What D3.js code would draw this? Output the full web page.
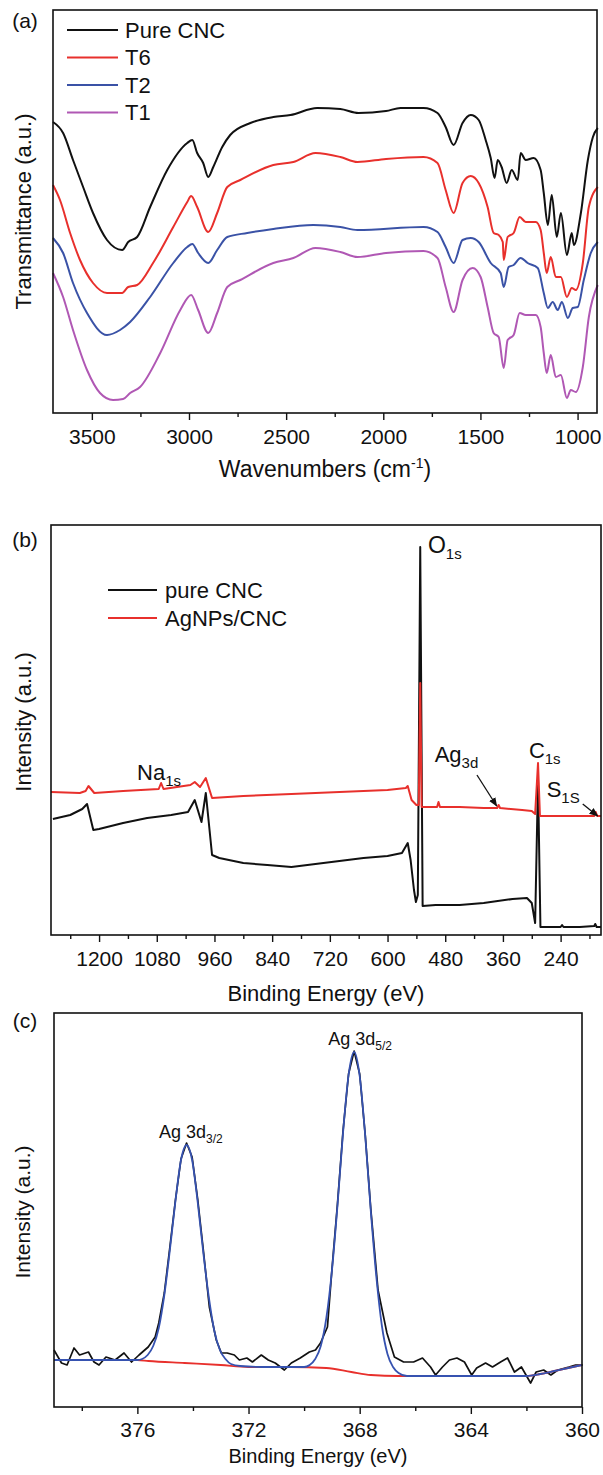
<!DOCTYPE html>
<html>
<head>
<meta charset="utf-8">
<script src="https://cdn.jsdelivr.net/npm/d3@7/dist/d3.min.js"></script>
<style>
body { margin: 0; background: #fff; }
text { font-family: "Liberation Sans", Arial, sans-serif; fill: #111; }
</style>
</head>
<body>
<div id="chart"></div>
<script>
// ---- (a) FTIR spectra: [wavenumber, transmittance a.u.]
const ftirNames = ['Pure CNC', 'T6', 'T2', 'T1'];
const ftirColors = ['#111111', '#e8302c', '#3a52a6', '#b058b4'];
const ftirTicks = [3500, 3000, 2500, 2000, 1500, 1000];
const ftirMinor = [3250, 2750, 2250, 1750, 1250];

const ftirPureCnc = [[3700,285],[3648,274],[3597,247],[3545,220],[3494,194],[3422,167],[3344,157],[3313,165],[3267,170],[3200,200],[3112,237],[3009,264],[2983,267],[2958,254],[2927,244],[2901,230],[2875,240],[2829,260],[2788,272],[2684,284],[2566,290],[2478,292],[2340,299],[2221,298],[2128,294],[1986,296],[1911,299],[1793,299],[1721,294],[1679,280],[1638,262],[1592,284],[1550,292],[1509,287],[1473,267],[1447,249],[1427,229],[1411,247],[1391,240],[1365,224],[1339,237],[1308,227],[1293,254],[1267,247],[1226,249],[1190,237],[1174,214],[1153,182],[1133,212],[1107,170],[1086,194],[1055,152],[1030,174],[1019,162],[983,194],[947,247],[921,270],[896,279]];
const ftirT6 = [[3700,222],[3664,207],[3612,174],[3561,147],[3494,124],[3422,114],[3344,114],[3313,120],[3267,122],[3185,144],[3081,180],[3009,205],[2989,211],[2958,200],[2901,175],[2855,194],[2803,220],[2736,227],[2566,242],[2463,245],[2349,254],[2221,250],[2133,245],[1986,248],[1793,250],[1721,244],[1679,217],[1638,194],[1592,224],[1550,231],[1509,224],[1463,200],[1432,174],[1406,172],[1385,165],[1380,147],[1360,170],[1329,174],[1298,190],[1267,185],[1215,185],[1190,177],[1174,154],[1159,134],[1138,150],[1112,130],[1086,130],[1055,110],[1030,119],[1009,117],[973,144],[942,200],[896,220]];
const ftirT2 = [[3700,169],[3648,154],[3597,124],[3525,94],[3422,72],[3355,77],[3303,85],[3200,110],[3081,144],[3009,160],[2983,163],[2953,154],[2901,144],[2855,157],[2803,170],[2700,174],[2566,178],[2360,182],[2221,180],[2133,177],[1793,180],[1721,175],[1679,160],[1638,144],[1592,167],[1550,169],[1509,165],[1447,144],[1396,134],[1380,120],[1355,140],[1329,142],[1293,149],[1257,144],[1205,139],[1174,114],[1153,99],[1128,105],[1102,97],[1081,105],[1050,89],[1025,99],[999,100],[968,127],[932,154],[896,165]];
const ftirT1 = [[3700,134],[3648,110],[3597,77],[3525,37],[3458,14],[3391,7],[3339,8],[3303,14],[3252,20],[3148,54],[3045,97],[2989,112],[2953,97],[2901,74],[2855,94],[2803,120],[2736,127],[2566,144],[2463,149],[2349,159],[2221,155],[2133,150],[1986,154],[1793,156],[1721,149],[1679,120],[1638,95],[1592,127],[1540,139],[1499,130],[1463,100],[1432,74],[1406,70],[1380,39],[1360,67],[1329,72],[1298,94],[1267,92],[1215,92],[1190,80],[1174,54],[1159,34],[1138,52],[1112,30],[1086,32],[1055,9],[1035,17],[1009,15],[973,40],[942,90],[896,122]];

// ---- (b) XPS survey: [binding energy eV, intensity a.u.]
const surveyNames = ['pure CNC', 'AgNPs/CNC'];
const surveyTicks = [1200, 1080, 960, 840, 720, 600, 480, 360, 240];
const surveyMinor = [1260, 1140, 1020, 900, 780, 660, 540, 420, 300, 180];
const surveyPure = [[1296,116],[1260,120],[1235,126],[1225,131],[1212,105],[1200,106],[1150,112],[1100,117],[1050,120],[1015,123],[1001,135],[987,113],[978,142],[965,80],[950,77],[900,72],[850,70],[800,68],[750,71],[700,74],[650,77],[600,79],[570,82],[558,92],[552,75],[545,45],[541,33],[537,40],[532,388],[527,29],[500,30],[450,30],[400,32],[340,36],[310,37],[300,32],[293,12],[287,155],[282,8],[240,8],[237,10],[234,8],[200,8],[170,9],[168,11],[165,8],[156,8]];
const surveyAg = [[1300,143],[1240,142],[1228,144],[1222,149],[1210,142],[1150,144],[1076,146],[1071,152],[1066,146],[1010,150],[1001,153],[990,148],[978,157],[965,137],[900,139],[800,141],[700,143],[600,145],[562,147],[558,149],[550,135],[540,130],[535,130],[532,252],[529,128],[520,128],[497,128],[494,133],[491,128],[450,128],[400,127],[372,127],[369,130],[366,127],[320,125],[300,124],[293,121],[287,172],[283,119],[240,119],[200,119],[170,119],[167,123],[164,119],[156,119]];

// ---- (c) Ag 3d high resolution
const agTicks = [376, 372, 368, 364, 360];
const agMinor = [378, 374, 370, 366, 362];
const agRaw = [[379.0,57],[378.73,44],[378.53,42],[378.28,59],[378.08,52],[377.76,55],[377.56,45],[377.38,42],[377.13,50],[376.80,47],[376.48,54],[376.21,45],[375.94,52],[375.61,60],[375.36,70],[375.23,84],[375.03,114],[374.83,160],[374.63,207],[374.43,248],[374.23,264],[374.03,250],[373.83,208],[373.63,158],[373.41,100],[373.16,67],[372.98,54],[372.77,54],[372.51,52],[372.33,47],[372.06,49],[371.86,45],[371.54,52],[371.29,47],[371.04,44],[370.71,37],[370.46,44],[370.14,49],[369.81,55],[369.59,57],[369.41,64],[369.16,80],[369.0,137],[368.8,203],[368.6,276],[368.4,333],[368.2,356],[368.0,333],[367.8,272],[367.6,198],[367.34,117],[367.02,74],[366.75,50],[366.42,45],[366.06,45],[365.74,49],[365.45,40],[365.27,32],[365.02,40],[364.77,47],[364.50,49],[364.23,45],[363.97,32],[363.79,39],[363.47,44],[363.22,40],[362.93,45],[362.68,49],[362.43,35],[362.18,40],[361.85,24],[361.65,35],[361.38,37],[361.12,32],[360.87,37],[360.47,40],[360.23,42],[359.97,42]];
const agBackground = [[379,47],[376,47],[375.6,46],[374.3,44],[373.0,42],[372.0,40],[370.5,40],[369.2,39],[368.3,35],[367.6,32],[366.6,31],[366.0,31],[362.0,31],[361.5,33],[361.0,36],[360.5,39],[360.0,42]];
const agFit = [[379,47],[376.5,47],[376.0,47],[375.83,48],[375.63,52],[375.43,61],[375.23,79],[375.03,112],[374.83,157],[374.63,206],[374.43,247],[374.23,262],[374.03,247],[373.83,205],[373.63,155],[373.43,110],[373.23,76],[373.03,57],[372.83,48],[372.63,43],[372.3,41],[371.5,40],[370.5,40],[370.0,40],[369.8,42],[369.6,48],[369.4,61],[369.2,89],[369.0,136],[368.8,201],[368.6,274],[368.4,332],[368.2,355],[368.0,331],[367.8,271],[367.6,196],[367.4,130],[367.2,81],[367.0,53],[366.8,40],[366.6,34],[366.3,31],[366.0,31],[362.0,31],[361.5,33],[361.0,36],[360.5,39],[360.0,42]];

const W = 603, H = 1475;
const svg = d3.select('#chart').append('svg')
    .attr('width', W).attr('height', H);

svg.append('defs').append('marker')
    .attr('id', 'arrow')
    .attr('viewBox', '0 0 10 10')
    .attr('refX', 9).attr('refY', 5)
    .attr('markerWidth', 7).attr('markerHeight', 7)
    .attr('orient', 'auto')
    .append('path')
    .attr('d', 'M0,1 L10,5 L0,9 z')
    .attr('fill', '#111');

// draws bottom axis with major/minor ticks, returns scales
function makePanel(box, xDomain, yDomain, major, minor, tickFont, pad) {
    const g = svg.append('g').attr('transform', `translate(${box.left},${box.top})`);
    const x = d3.scaleLinear().domain(xDomain).range([0, box.w]);
    const y = d3.scaleLinear().domain(yDomain).range([box.h, 0]);

    const ax = g.append('g')
        .attr('transform', `translate(0,${box.h})`)
        .call(d3.axisBottom(x).tickValues(major).tickFormat(d3.format('d'))
            .tickSize(7).tickSizeOuter(0).tickPadding(pad));
    ax.select('.domain').remove();
    ax.selectAll('line').attr('stroke', '#111').attr('stroke-width', 1.4);
    ax.selectAll('text').attr('font-size', tickFont).attr('font-family', '"Liberation Sans", Arial, sans-serif');

    const mx = g.append('g')
        .attr('transform', `translate(0,${box.h})`)
        .call(d3.axisBottom(x).tickValues(minor).tickSize(4).tickSizeOuter(0).tickFormat(''));
    mx.select('.domain').remove();
    mx.selectAll('line').attr('stroke', '#111').attr('stroke-width', 1.4);

    return {g, x, y};
}

function addFrame(p, box) {
    p.g.append('rect')
        .attr('width', box.w).attr('height', box.h)
        .attr('fill', 'none').attr('stroke', '#111').attr('stroke-width', 1.6);
}

function yLabel(text, cx, cy, size) {
    svg.append('text')
        .attr('transform', `translate(${cx},${cy}) rotate(-90)`)
        .attr('text-anchor', 'middle')
        .attr('dy', '0.35em')
        .attr('font-size', size)
        .text(text);
}

function subLabel(p, xv, yv, main, sub, size, subSize, subDy) {
    const t = p.g.append('text')
        .attr('x', p.x(xv)).attr('y', p.y(yv))
        .attr('font-size', size);
    t.append('tspan').text(main);
    t.append('tspan').attr('font-size', subSize).attr('dy', subDy).text(sub);
}

// ================= (a) =================
const boxA = {left: 53, top: 10, w: 544, h: 403};
const pa = makePanel(boxA, [3700, 900], [-6, 397], ftirTicks, ftirMinor, 21, 9);
const lineA = d3.line().x(d => pa.x(d[0])).y(d => pa.y(d[1])).curve(d3.curveMonotoneX);
[ftirPureCnc, ftirT6, ftirT2, ftirT1].forEach((s, i) => {
    pa.g.append('path').datum(s)
        .attr('fill', 'none').attr('stroke', ftirColors[i])
        .attr('stroke-width', 2).attr('stroke-linejoin', 'round')
        .attr('d', lineA);
});
addFrame(pa, boxA);

const legA = pa.g.append('g');
ftirNames.forEach((n, i) => {
    const yy = 20 + i * 27.5;
    legA.append('line').attr('x1', 14).attr('x2', 65).attr('y1', yy).attr('y2', yy)
        .attr('stroke', ftirColors[i]).attr('stroke-width', 2);
    legA.append('text').attr('x', 72).attr('y', yy).attr('dy', '0.35em')
        .attr('font-size', 22).text(n);
});

svg.append('text').attr('x', 25).attr('y', 21).attr('text-anchor', 'middle')
    .attr('dy', '0.35em').attr('font-size', 21).text('(a)');
yLabel('Transmittance (a.u.)', 23, boxA.top + boxA.h / 2, 22);
const titleA = svg.append('text').attr('x', 325).attr('y', 477)
    .attr('text-anchor', 'middle').attr('font-size', 23);
titleA.append('tspan').text('Wavenumbers (cm');
titleA.append('tspan').attr('font-size', 14).attr('dy', -9).text('-1');
titleA.append('tspan').attr('dy', 9).text(')');

// ================= (b) =================
const boxB = {left: 51, top: 525, w: 550, h: 410};
const pb = makePanel(boxB, [1300, 156], [0, 410], surveyTicks, surveyMinor, 21, 9);
const lineB = d3.line().x(d => pb.x(d[0])).y(d => pb.y(d[1]));
pb.g.append('path').datum(surveyPure)
    .attr('fill', 'none').attr('stroke', '#111').attr('stroke-width', 2)
    .attr('stroke-linejoin', 'round').attr('d', lineB);
pb.g.append('path').datum(surveyAg)
    .attr('fill', 'none').attr('stroke', '#e8302c').attr('stroke-width', 2)
    .attr('stroke-linejoin', 'round').attr('d', lineB);
addFrame(pb, boxB);

const legB = pb.g.append('g');
['#111111', '#e8302c'].forEach((c, i) => {
    const yy = 65 + i * 28;
    legB.append('line').attr('x1', 57).attr('x2', 106).attr('y1', yy).attr('y2', yy)
        .attr('stroke', c).attr('stroke-width', 2);
    legB.append('text').attr('x', 114).attr('y', yy).attr('dy', '0.35em')
        .attr('font-size', 22).text(surveyNames[i]);
});

subLabel(pb, 516, 382, 'O', '1s', 23, 15, 6);
subLabel(pb, 1121, 155, 'Na', '1s', 22, 15, 6);
subLabel(pb, 502, 173, 'Ag', '3d', 22, 15, 6);
subLabel(pb, 306, 177, 'C', '1s', 22, 15, 6);
subLabel(pb, 269, 138, 'S', '1S', 22, 15, 6);

[[[414, 160], [373, 129]], [[194, 131], [163, 119]]].forEach(a => {
    pb.g.append('line')
        .attr('x1', pb.x(a[0][0])).attr('y1', pb.y(a[0][1]))
        .attr('x2', pb.x(a[1][0])).attr('y2', pb.y(a[1][1]))
        .attr('stroke', '#111').attr('stroke-width', 1.3)
        .attr('marker-end', 'url(#arrow)');
});

svg.append('text').attr('x', 25).attr('y', 540).attr('text-anchor', 'middle')
    .attr('dy', '0.35em').attr('font-size', 21).text('(b)');
yLabel('Intensity (a.u.)', 23, 722, 22);
svg.append('text').attr('x', 326).attr('y', 1001)
    .attr('text-anchor', 'middle').attr('font-size', 22).text('Binding Energy (eV)');

// ================= (c) =================
const boxC = {left: 54, top: 1013, w: 528, h: 394};
const pc = makePanel(boxC, [379, 360], [0, 394], agTicks, agMinor, 21, 8);
const lineRaw = d3.line().x(d => pc.x(d[0])).y(d => pc.y(d[1]));
const lineFit = d3.line().x(d => pc.x(d[0])).y(d => pc.y(d[1])).curve(d3.curveMonotoneX);
pc.g.append('path').datum(agRaw)
    .attr('fill', 'none').attr('stroke', '#111').attr('stroke-width', 1.7)
    .attr('stroke-linejoin', 'round').attr('d', lineRaw);
pc.g.append('path').datum(agBackground)
    .attr('fill', 'none').attr('stroke', '#e8302c').attr('stroke-width', 1.8)
    .attr('d', lineFit);
pc.g.append('path').datum(agFit)
    .attr('fill', 'none').attr('stroke', '#3652b0').attr('stroke-width', 1.8)
    .attr('d', lineFit);
addFrame(pc, boxC);

subLabel(pc, 375.22, 269, 'Ag 3d', '3/2', 18, 12, 5);
subLabel(pc, 369.13, 362, 'Ag 3d', '5/2', 18, 12, 5);

svg.append('text').attr('x', 25).attr('y', 1021).attr('text-anchor', 'middle')
    .attr('dy', '0.35em').attr('font-size', 21).text('(c)');
yLabel('Intensity (a.u.)', 23, 1212, 21);
svg.append('text').attr('x', 318).attr('y', 1463)
    .attr('text-anchor', 'middle').attr('font-size', 20).text('Binding Energy (eV)');
</script>
</body>
</html>
